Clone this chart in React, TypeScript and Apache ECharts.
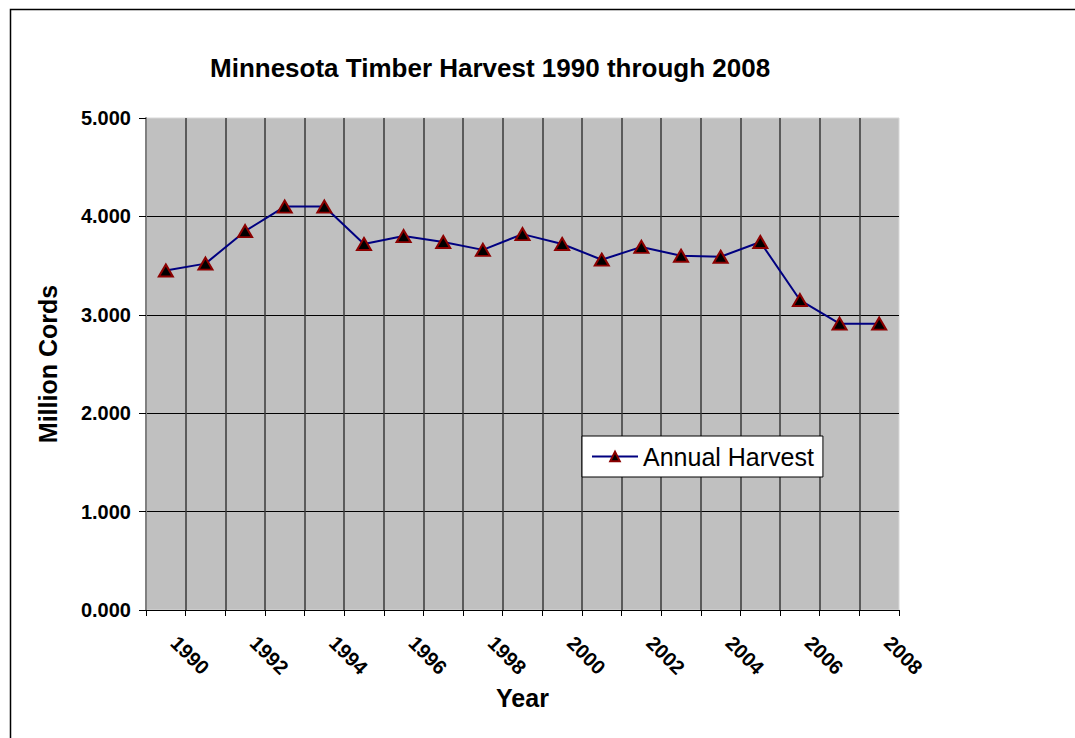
import React, { useEffect, useRef } from "react";
import * as echarts from "echarts";

const years = ["1990","1991","1992","1993","1994","1995","1996","1997","1998","1999","2000","2001","2002","2003","2004","2005","2006","2007","2008"];
const harvest = [3.45, 3.52, 3.85, 4.10, 4.10, 3.72, 3.80, 3.74, 3.66, 3.82, 3.72, 3.56, 3.69, 3.60, 3.59, 3.74, 3.15, 2.91, 2.91];
const yTicks = { min: 0, max: 5, interval: 1 };
const titleText = "Minnesota Timber Harvest 1990 through 2008";
const seriesName = "Annual Harvest";
const xName = "Year";
const yName = "Million Cords";

const FONT = "Arial, 'Liberation Sans', Helvetica, sans-serif";

export default function App() {
  const ref = useRef<HTMLDivElement>(null);
  useEffect(() => {
    if (!ref.current) return;
    const chart = echarts.init(ref.current, null, { renderer: "svg" });
    chart.setOption({
      animation: false,
      backgroundColor: "#ffffff",
      textStyle: { fontFamily: FONT },
      title: {
        text: titleText,
        left: 210,
        top: 55,
        padding: 0,
        textStyle: { fontFamily: FONT, fontSize: 26, fontWeight: "bold", color: "#000" },
      },
      graphic: [
        {
          type: "rect",
          left: 8,
          top: 7,
          shape: { x: 0, y: 0, width: 1100, height: 800 },
          style: { fill: "none", stroke: "#000", lineWidth: 1.5 },
          silent: true,
          z: 100,
        },
      ],
      legend: {
        show: true,
        left: 582,
        top: 436,
        orient: "horizontal",
        padding: [8, 9, 8, 9],
        backgroundColor: "#ffffff",
        borderColor: "#000000",
        borderWidth: 1,
        itemWidth: 46,
        itemHeight: 12,
        itemGap: 5,
        textStyle: { fontFamily: FONT, fontSize: 25, color: "#000" },
        data: [seriesName],
      },
      grid: {
        left: 146,
        top: 118,
        right: 176,
        bottom: 128,
        show: true,
        backgroundColor: "#C0C0C0",
        borderColor: "#d8d8d8",
        borderWidth: 1,
      },
      xAxis: {
        type: "category",
        data: years,
        boundaryGap: true,
        name: xName,
        nameLocation: "middle",
        nameGap: 74,
        nameTextStyle: { fontFamily: FONT, fontSize: 25, fontWeight: "bold", color: "#000" },
        axisLine: { show: true, lineStyle: { color: "#000", width: 1 } },
        axisTick: { show: true, interval: 0, length: 6, alignWithLabel: false, lineStyle: { color: "#000", width: 1 } },
        axisLabel: {
          show: true,
          interval: 1,
          rotate: -45,
          margin: 21,
          padding: [0, 0, 0, 12],
          fontFamily: FONT,
          fontSize: 20,
          fontWeight: "bold",
          color: "#000",
        },
        splitLine: {
          show: true,
          interval: 0,
          showMinLine: false,
          showMaxLine: false,
          lineStyle: { color: "#3a3a3a", width: 1.5 },
        },
      },
      yAxis: {
        type: "value",
        min: yTicks.min,
        max: yTicks.max,
        interval: yTicks.interval,
        name: yName,
        nameLocation: "middle",
        nameRotate: 90,
        nameGap: 86,
        nameTextStyle: { fontFamily: FONT, fontSize: 25, fontWeight: "bold", color: "#000" },
        axisLine: { show: true, lineStyle: { color: "#808080", width: 2 } },
        axisTick: { show: true, length: 7, lineStyle: { color: "#000", width: 1 } },
        axisLabel: {
          margin: 15,
          fontFamily: FONT,
          fontSize: 20,
          fontWeight: "bold",
          color: "#000",
          formatter: (v: number) => v.toFixed(3),
        },
        splitLine: {
          show: true,
          showMinLine: false,
          showMaxLine: false,
          lineStyle: { color: "#000", width: 1 },
        },
      },
      series: [
        {
          name: seriesName,
          type: "line",
          data: harvest,
          symbol: "triangle",
          symbolSize: [14, 12],
          showAllSymbol: true,
          lineStyle: { color: "#000080", width: 2 },
          itemStyle: { color: "#000000", borderColor: "#8B0000", borderWidth: 2 },
          emphasis: { disabled: true },
          z: 5,
        },
      ],
    });
    return () => chart.dispose();
  }, []);
  return (
    <div
      ref={ref}
      style={{ position: "absolute", left: 0, top: 0, width: 1075, height: 738 }}
    />
  );
}
